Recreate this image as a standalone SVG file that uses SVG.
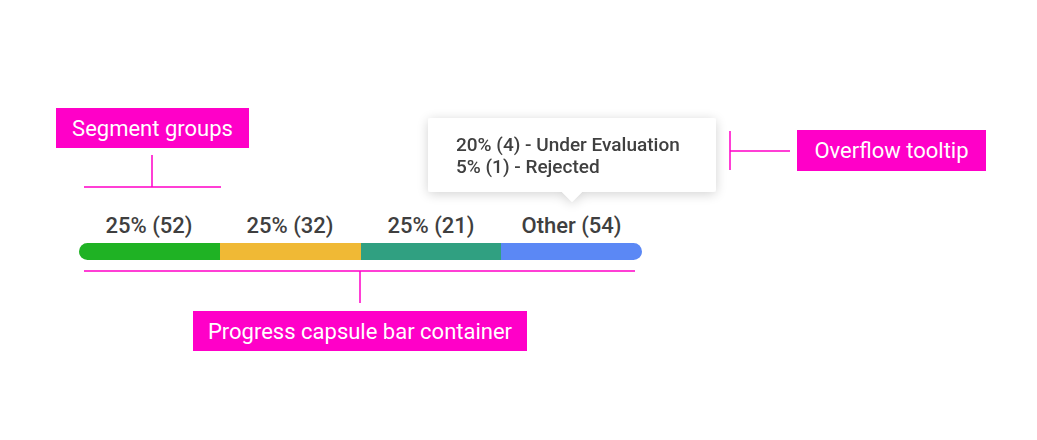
<svg xmlns="http://www.w3.org/2000/svg" width="1037" height="440" viewBox="0 0 1037 440">
<defs>
<style>
.ann{fill:#ff00c8}
.annt{fill:#ffffff;font-family:Roboto,"Liberation Sans",sans-serif;font-size:22px}
.ln{stroke:#ff00c8;stroke-width:1.5;fill:none}
.lbl{fill:#3f3f3f;font-family:Roboto,"Liberation Sans",sans-serif;font-size:22px;font-weight:500}
.tt{fill:#3f3f3f;font-family:Roboto,"Liberation Sans",sans-serif;font-size:19px;font-weight:500}
</style>
<filter id="sh" x="-20%" y="-40%" width="140%" height="180%">
<feGaussianBlur in="SourceAlpha" stdDeviation="6"/>
<feOffset dy="2"/>
<feComponentTransfer><feFuncA type="linear" slope="0.18"/></feComponentTransfer>
<feMerge><feMergeNode/><feMergeNode in="SourceGraphic"/></feMerge>
</filter>
<clipPath id="barclip"><rect x="79" y="243" width="563" height="17" rx="8.5"/></clipPath>
</defs>
<rect width="1037" height="440" fill="#ffffff"/>
<g id="connectors">
<path class="ln" d="M152 155V187M84 187H221"/>
<path class="ln" d="M84 271H635M360 271V303"/>
<path class="ln" d="M730 131V170M730 151H790"/>
</g>
<g id="bar" clip-path="url(#barclip)">
<rect x="79" y="243" width="141" height="17" fill="#1fb224"/>
<rect x="220" y="243" width="141" height="17" fill="#f0b935"/>
<rect x="361" y="243" width="140" height="17" fill="#30a081"/>
<rect x="501" y="243" width="141" height="17" fill="#5b88f5"/>
</g>
<g id="labels">
<text class="lbl" x="149" y="233" text-anchor="middle">25% (52)</text>
<text class="lbl" x="290" y="233" text-anchor="middle">25% (32)</text>
<text class="lbl" x="431" y="233" text-anchor="middle">25% (21)</text>
<text class="lbl" x="571.5" y="233" text-anchor="middle">Other (54)</text>
</g>
<g id="tooltip" filter="url(#sh)">
<path d="M431 118H713a3 3 0 0 1 3 3V189a3 3 0 0 1-3 3H582L572 202L562 192H431a3 3 0 0 1-3-3V121a3 3 0 0 1 3-3Z" fill="#ffffff"/>
<text class="tt" x="456" y="151">20% (4) - Under Evaluation</text>
<text class="tt" x="456" y="173">5% (1) - Rejected</text>
</g>
<g id="segment-groups">
<rect class="ann" x="56" y="108" width="193" height="40"/>
<text class="annt" x="152.5" y="136" text-anchor="middle">Segment groups</text>
</g>
<g id="progress-container">
<rect class="ann" x="193" y="311" width="334" height="40"/>
<text class="annt" x="360" y="339" text-anchor="middle">Progress capsule bar container</text>
</g>
<g id="overflow-tooltip">
<rect class="ann" x="797" y="130" width="189" height="41"/>
<text class="annt" x="891.5" y="158" text-anchor="middle">Overflow tooltip</text>
</g>
</svg>
